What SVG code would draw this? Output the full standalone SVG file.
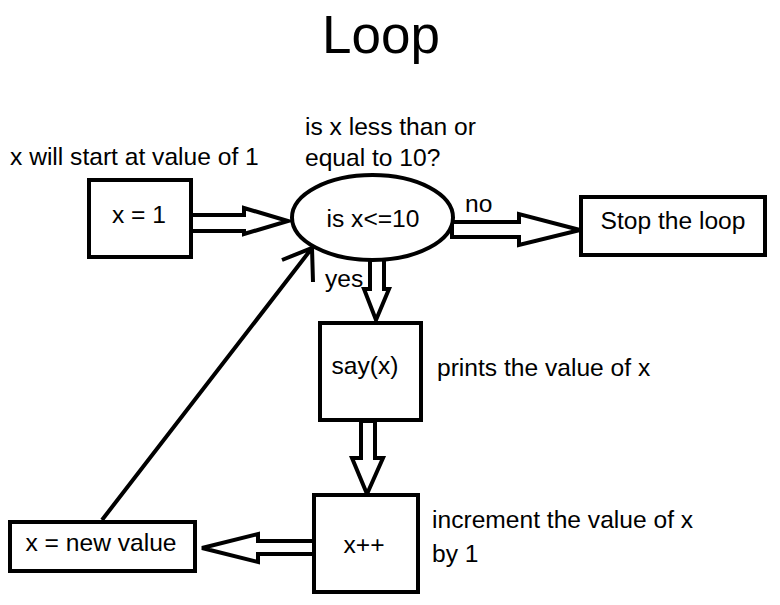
<svg xmlns="http://www.w3.org/2000/svg" width="780" height="605" viewBox="0 0 780 605">
<style>
text{font-family:"Liberation Sans",Arial,sans-serif;font-size:24.6px;fill:#000}
.box{fill:#fff;stroke:#000;stroke-width:4}
.blk{fill:#fff;stroke:#000;stroke-width:4;stroke-linejoin:miter}
.ln{fill:none;stroke:#000;stroke-width:4;stroke-linecap:butt}
.c{text-anchor:middle}
</style>
<rect width="780" height="605" fill="#fff"/>
<text x="381" y="53" class="c" style="font-size:53px">Loop</text>
<text x="10" y="165">x will start at value of 1</text>
<text x="305" y="135">is x less than or</text>
<text x="305" y="166">equal to 10?</text>
<text x="465" y="212">no</text>
<text x="325" y="287">yes</text>
<text x="437" y="376">prints the value of x</text>
<text x="432" y="528">increment the value of x</text>
<text x="432" y="562">by 1</text>
<g id="connectors">
<polygon class="blk" points="191,215 244,215 244,208 288,221 244,234 244,231 191,231"/>
<polygon class="blk" points="452,222 519,222 519,214 580,230 519,245 519,237 452,237"/>
<polygon class="blk" points="370,259 370,289 364,289 376,320 389,289 384,289 384,259"/>
<polygon class="blk" points="361,421 361,458 352,458 367,494 383,458 375,458 375,421"/>
<polygon class="blk" points="314,541 258,541 258,534 202,548 258,562 258,554 314,554"/>
<path class="ln" d="M102,520 L312,248 M282,260 L312,248 L313,282"/>
</g>
<g id="start">
<rect class="box" x="89" y="180" width="102" height="77"/>
<text x="139" y="223" class="c">x = 1</text>
</g>
<g id="cond">
<ellipse class="box" cx="372.5" cy="217.5" rx="80.5" ry="42.5"/>
<text x="373" y="227" class="c">is x&lt;=10</text>
</g>
<g id="stop">
<rect class="box" x="581" y="197" width="184" height="58"/>
<text x="673" y="229" class="c">Stop the loop</text>
</g>
<g id="say">
<rect class="box" x="320" y="323" width="101" height="97"/>
<text x="365" y="374" class="c">say(x)</text>
</g>
<g id="inc">
<rect class="box" x="314" y="495" width="104" height="97"/>
<text x="364" y="553" class="c">x++</text>
</g>
<g id="newval">
<rect class="box" x="10" y="522" width="185" height="49"/>
<text x="101" y="551" class="c">x = new value</text>
</g>
</svg>
